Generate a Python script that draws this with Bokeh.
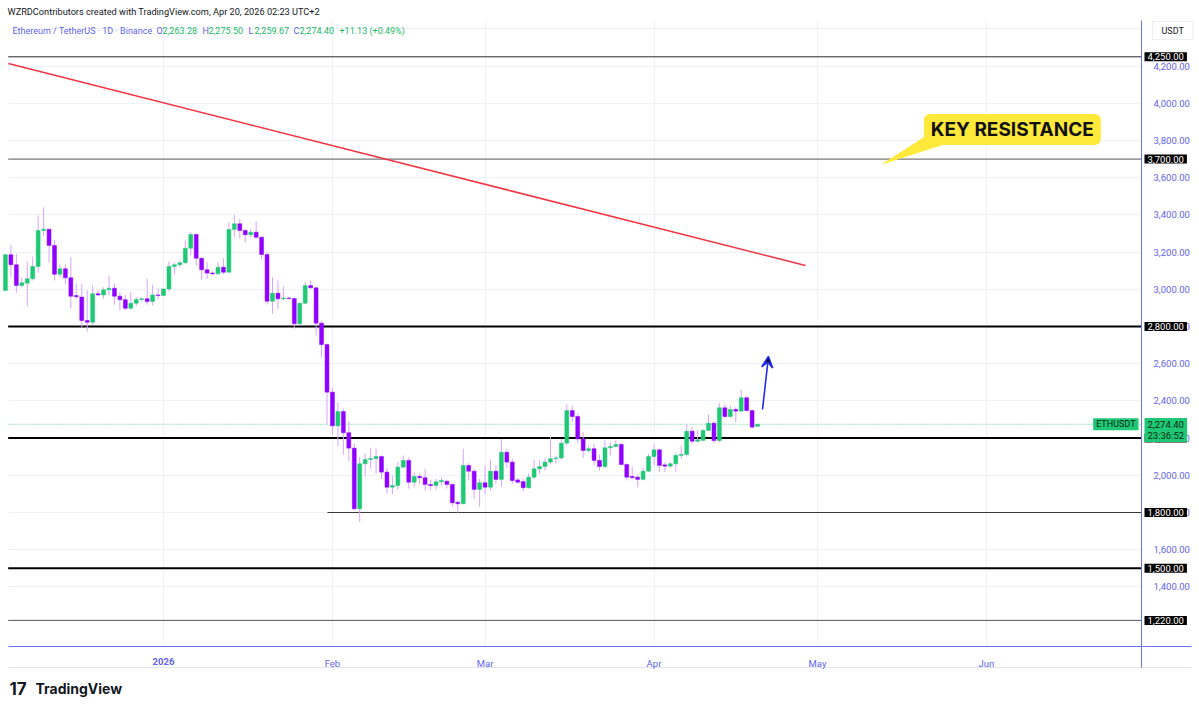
import pandas as pd
from bokeh.plotting import figure
from bokeh.models import (Range1d, FixedTicker, NumeralTickFormatter, Label, BoxAnnotation,
                          Arrow, VeeHead, ColumnDataSource, DatetimeAxis)
from bokeh.embed import file_html
from bokeh.resources import INLINE

# ---------------- data (ETH/USDT daily) ----------------
first_day = "2025-12-03"
opens = [2994, 3186, 3132, 3020, 3033, 3057, 3123, 3316, 3323, 3236, 3081, 3110, 3062, 2966, 2958,
         2832, 2823, 2976, 2970, 2997, 3006, 2963, 2944, 2898, 2925, 2945, 2949, 2934, 2970, 2966,
         3002, 3123, 3132, 3143, 3221, 3295, 3167, 3105, 3088, 3083, 3119, 3092, 3322, 3352, 3316,
         3293, 3307, 3280, 3187, 2936, 2979, 2949, 2953, 2950, 2815, 2925, 3020, 3008, 2818, 2703,
         2447, 2266, 2343, 2229, 2146, 1820, 2062, 2085, 2090, 2101, 2017, 1936, 1945, 2044, 2080,
         1963, 1994, 1987, 1951, 1945, 1965, 1968, 1951, 1855, 1847, 2053, 2022, 1924, 1960, 1936,
         2022, 1978, 2124, 2071, 1975, 1966, 1933, 1990, 2035, 2047, 2071, 2089, 2093, 2173, 2348,
         2316, 2196, 2133, 2143, 2080, 2047, 2148, 2155, 2166, 2058, 1994, 1990, 1978, 2022, 2101,
         2137, 2056, 2049, 2062, 2107, 2112, 2237, 2183, 2188, 2241, 2280, 2187, 2363, 2316, 2354,
         2345, 2417, 2348, 2263.28]
highs = [3190, 3239, 3191, 3065, 3150, 3176, 3397, 3441, 3325, 3262, 3132, 3132, 3173, 3030, 3030,
         2994, 3020, 2994, 3011, 3074, 3030, 2984, 2970, 2988, 2958, 2958, 3057, 3024, 3006, 3006,
         3150, 3146, 3155, 3262, 3307, 3300, 3173, 3146, 3097, 3146, 3169, 3361, 3402, 3379, 3325,
         3325, 3366, 3284, 3200, 3065, 3047, 3015, 2960, 2958, 2929, 3038, 3047, 3011, 2829, 2710,
         2471, 2393, 2358, 2291, 2169, 2097, 2116, 2148, 2143, 2107, 2040, 1999, 2071, 2107, 2097,
         2017, 2011, 2035, 1976, 1981, 1990, 1976, 1955, 1865, 2143, 2065, 2035, 1981, 2053, 2083,
         2053, 2196, 2143, 2089, 1985, 1981, 2011, 2083, 2080, 2094, 2205, 2107, 2196, 2381, 2375,
         2331, 2232, 2160, 2169, 2112, 2191, 2178, 2191, 2173, 2065, 2044, 1999, 2040, 2116, 2166,
         2143, 2070, 2071, 2119, 2160, 2272, 2259, 2241, 2250, 2327, 2291, 2388, 2381, 2375, 2367,
         2460, 2424, 2353, 2275.50]
lows = [2990, 3065, 2981, 3011, 2908, 3047, 3089, 3286, 3146, 3047, 3065, 3030, 2898, 2949, 2796,
        2773, 2809, 2964, 2949, 2967, 2917, 2886, 2886, 2891, 2911, 2935, 2917, 2913, 2945, 2963,
        2990, 3080, 3119, 3137, 3182, 3128, 3051, 3057, 3080, 3080, 3080, 3090, 3280, 3272, 3253,
        3280, 3272, 3164, 2918, 2868, 2895, 2940, 2945, 2788, 2805, 2920, 3003, 2752, 2635, 2273,
        2219, 2157, 2112, 2076, 1811, 1748, 1994, 2035, 2008, 1981, 1901, 1897, 1922, 2040, 1928,
        1936, 1954, 1918, 1922, 1922, 1945, 1928, 1832, 1799, 1845, 1972, 1874, 1832, 1901, 1918,
        1954, 1940, 2040, 1954, 1954, 1913, 1928, 1981, 2008, 2026, 2062, 2062, 2083, 2160, 2286,
        2173, 2094, 2124, 2053, 2026, 2040, 2107, 2150, 2053, 1972, 1981, 1936, 1972, 2017, 2053,
        2017, 2017, 2040, 2017, 2089, 2101, 2169, 2178, 2183, 2237, 2173, 2178, 2309, 2309, 2286,
        2340, 2343, 2250, 2259.67]
closes = [3186, 3132, 3020, 3035, 3057, 3123, 3316, 3323, 3236, 3081, 3110, 3062, 2963, 2960, 2832,
          2823, 2976, 2970, 2997, 3006, 2963, 2944, 2898, 2925, 2945, 2949, 2934, 2970, 2966, 3002,
          3123, 3132, 3143, 3221, 3295, 3167, 3105, 3087, 3083, 3119, 3092, 3322, 3352, 3316, 3293,
          3307, 3280, 3187, 2936, 2979, 2949, 2953, 2950, 2815, 2925, 3020, 3008, 2818, 2703, 2447,
          2266, 2343, 2229, 2146, 1820, 2062, 2085, 2090, 2101, 2017, 1936, 1945, 2044, 2080, 1963,
          1994, 1987, 1951, 1945, 1965, 1972, 1951, 1852, 1847, 2053, 2022, 1924, 1960, 1936, 2022,
          1978, 2124, 2071, 1972, 1963, 1933, 1990, 2035, 2047, 2071, 2089, 2093, 2173, 2348, 2316,
          2196, 2133, 2143, 2080, 2047, 2148, 2155, 2166, 2058, 1990, 1987, 1978, 2022, 2101, 2137,
          2053, 2049, 2062, 2107, 2112, 2237, 2183, 2191, 2241, 2280, 2187, 2363, 2316, 2354, 2345,
          2417, 2348, 2259, 2274.40]

levels = [4250, 3700, 2800, 2200, 1800, 1500, 1220]
level_starts = ["2025-12-03 12:00", "2025-12-03 12:00", "2025-12-03 12:00", "2025-12-03 12:00",
                "2026-01-31 02:00", "2025-12-03 12:00", "2025-12-03 12:00"]
level_widths = [1, 1, 2, 2, 1, 2, 1]
level_colors = ["#2a2a2a", "#555555", "#000000", "#000000", "#3a3a3a", "#000000", "#555555"]

trend_dates = ["2025-12-03 13:00", "2026-04-28 19:00"]
trend_prices = [4214, 3128]
arrow_dates = ["2026-04-20 22:00", "2026-04-22 00:00"]
arrow_prices = [2354, 2639]
callout_text = "KEY RESISTANCE"
callout_date = "2026-06-05 18:00"
callout_price = 3859
tail_dates = ["2026-05-21 05:00", "2026-05-23 22:00", "2026-05-13 02:00"]
tail_prices = [3827, 3778, 3676]

last_price = 2274.40
countdown = "23:36:52"
year_tick = "2026-01-01"
year_label = "2026"
month_ticks = ["2026-02-01", "2026-03-01", "2026-04-01", "2026-05-01", "2026-06-01"]
month_labels = ["Feb", "Mar", "Apr", "May", "Jun"]
price_ticks = [1400, 1600, 1800, 2000, 2200, 2400, 2600, 2800, 3000, 3200, 3400, 3600, 3800,
               4000, 4200, 4400]

# ---------------- styling ----------------
UP = "#1fc874"
DOWN = "#8f00ff"
WICK = "#d7a3ff"
AXIS_BLUE = "#6d72f4"
TEXT_BLUE = "#5f63ef"
FONT = "Roboto"
W, H = 1199, 709

jan1 = pd.Timestamp("2026-01-01")
PX_PER_DAY = 5.45
PX_PER_USD = 0.186


def ms(t):
    return pd.Timestamp(t).value // 10**6


def day(page_x):          # page pixel -> date (layout only)
    return jan1 + pd.Timedelta(days=(page_x - 163) / PX_PER_DAY)


def usd(page_y):          # page pixel -> price (layout only)
    return 2800 - (page_y - 326) / PX_PER_USD


DAY_MS = 86400000
dates = pd.date_range(first_day, periods=len(opens), freq="D")
df = pd.DataFrame(dict(date=dates, open=opens, high=highs, low=lows, close=closes))
df["top"] = df[["open", "close"]].max(axis=1)
df["bottom"] = df[["open", "close"]].min(axis=1)
df["color"] = [UP if c >= o else DOWN for o, c in zip(df.open, df.close)]
src = ColumnDataSource(df)

axis_x = ms(day(1141))       # price-scale line
axis_y = usd(646)            # time-scale line
pane_left = ms(day(8))
pane_right = ms(day(1191))

p = figure(x_axis_type="datetime", y_axis_location="right",
           frame_width=W, frame_height=H,
           x_range=Range1d(day(0), day(W)), y_range=Range1d(usd(H), usd(0)),
           output_backend="svg", toolbar_location=None,
           min_border_left=0, min_border_right=0, min_border_top=0, min_border_bottom=0)
p.background_fill_color = "white"
p.border_fill_color = "white"
p.outline_line_color = None

p.xgrid.ticker = FixedTicker(ticks=[ms(year_tick)] + [ms(t) for t in month_ticks])
p.xgrid.grid_line_color = "#eef1f8"
p.ygrid.grid_line_color = "#eef1f8"

# axes drawn at fixed positions inside the canvas
p.xaxis.ticker = FixedTicker(ticks=[ms(t) for t in month_ticks])
p.xaxis.major_label_overrides = {ms(t): l for t, l in zip(month_ticks, month_labels)}
p.xaxis.fixed_location = axis_y
p.xaxis.bounds = (pane_left, pane_right)
year_axis = DatetimeAxis(ticker=FixedTicker(ticks=[ms(year_tick)]),
                         major_label_overrides={ms(year_tick): year_label},
                         fixed_location=axis_y, axis_line_color=None,
                         major_label_text_font_style="bold")
p.add_layout(year_axis, "below")
p.yaxis.ticker = FixedTicker(ticks=price_ticks)
p.yaxis.formatter = NumeralTickFormatter(format="0,0.00")
p.yaxis.fixed_location = axis_x
p.yaxis.bounds = (usd(667), usd(20))
for ax in (p.xaxis[0], year_axis, p.yaxis[0]):
    ax.major_tick_line_color = None
    ax.minor_tick_line_color = None
    ax.major_label_text_color = TEXT_BLUE
    ax.major_label_text_font = FONT
    ax.major_label_text_font_size = "9.5px"
for ax in (p.xaxis[0], p.yaxis[0]):
    ax.axis_line_color = AXIS_BLUE
    ax.axis_line_width = 1
p.yaxis.major_label_standoff = 6
p.xaxis[0].major_label_standoff = 5
year_axis.major_label_standoff = 5

# white masks so the grid stays inside the chart pane
for kw in (dict(left=axis_x), dict(top=axis_y), dict(bottom=usd(20)), dict(right=pane_left)):
    p.add_layout(BoxAnnotation(fill_color="white", fill_alpha=1, line_alpha=0, level="underlay", **kw))

# time-scale box bottom line
p.line([pane_left, pane_right], [usd(667), usd(667)], line_color="#e3e6ee", line_width=1)

# horizontal levels
lvl_src = ColumnDataSource(dict(x0=[ms(t) for t in level_starts], x1=[axis_x] * len(levels),
                                y=levels, w=level_widths, c=level_colors))
p.segment(x0="x0", y0="y", x1="x1", y1="y", line_width="w", line_color="c", source=lvl_src)

# last price dotted line
p.segment(x0=[pane_left], y0=[last_price], x1=[axis_x], y1=[last_price],
          line_color="#3ccf8a", line_dash="1 2", line_width=1)

# trend line
p.line([ms(t) for t in trend_dates], trend_prices, line_color="#f23645", line_width=1.6)

# candles
p.segment(x0="date", y0="low", x1="date", y1="high", line_color=WICK, line_width=1, source=src)
p.vbar(x="date", width=0.72 * DAY_MS, top="top", bottom="bottom", fill_color="color",
       line_color="color", line_width=0.5, source=src)

# arrow
p.add_layout(Arrow(end=VeeHead(size=11, line_color="#1f2de8", line_width=1.6),
                   x_start=ms(arrow_dates[0]), y_start=arrow_prices[0],
                   x_end=ms(arrow_dates[1]), y_end=arrow_prices[1],
                   line_color="#1f2de8", line_width=1.6))

# callout
p.patch([ms(t) for t in tail_dates], tail_prices, fill_color="#ffe93b", line_color="#ffe93b")
p.add_layout(Label(x=ms(callout_date), y=callout_price, text=callout_text,
                   text_align="center", text_baseline="middle", text_font="Inter",
                   text_font_style="bold", text_font_size="19px", text_color="#111111",
                   background_fill_color="#ffe93b", border_radius=6, padding=(7, 4)))

# price tags on the price scale
for lv in levels:
    p.add_layout(Label(x=axis_x, y=lv, text=f"{lv:,.2f}", text_align="left", x_offset=3,
                       text_baseline="middle", text_font=FONT, text_font_size="9.5px",
                       text_color="white", background_fill_color="black", padding=(3, 1)))
p.add_layout(Label(x=axis_x, y=usd(417.5), text=f"{last_price:,.2f}\n{countdown}",
                   text_align="left", text_baseline="top", x_offset=3, text_font=FONT,
                   text_font_size="9.5px", text_line_height=1.0, text_color="#0b2a16",
                   background_fill_color=UP, padding=(3, 1)))
p.add_layout(Label(x=axis_x, y=last_price, text="ETHUSDT", text_align="right", x_offset=-3,
                   text_baseline="middle", text_font=FONT, text_font_size="9px",
                   text_color="#0b2a16", background_fill_color=UP, padding=(3, 1)))
p.add_layout(Label(x=axis_x, y=usd(30), text="USDT", x_offset=11,
                   text_align="left", text_baseline="middle", text_font=FONT,
                   text_font_size="9px", text_color="#131722", background_fill_color="white",
                   border_line_color="#eeeeee", padding=(9, 4)))


def scr(text, px, py, size, color, style="normal", font=FONT):
    p.add_layout(Label(x=px, y=H - py, x_units="screen", y_units="screen", text=text,
                       text_baseline="middle", text_align="left", text_font=font,
                       text_font_size=size, text_color=color, text_font_style=style))


GREEN_TXT = "#1bb866"
scr("WZRDContributors created with TradingView.com, Apr 20, 2026 02:23 UTC+2", 7, 10.5, "9.2px", "#131722")
scr("Ethereum / TetherUS · 1D · Binance", 12, 30, "9px", TEXT_BLUE)
for letter, num, xx in [("O", "2,263.28", 156), ("H", "2,275.50", 202), ("L", "2,259.67", 248), ("C", "2,274.40", 293)]:
    scr(letter, xx, 30, "9px", TEXT_BLUE)
    scr(num, xx + 6, 30, "9px", GREEN_TXT)
scr("+11.13 (+0.49%)", 339, 30, "9px", GREEN_TXT)

# footer logo
scr("17", 9, 688, "17px", "#131722", "bold", "Inter")
scr("TradingView", 35, 688, "14px", "#131722", "bold", "Inter")

open("out.html", "w").write(file_html(p, INLINE))
